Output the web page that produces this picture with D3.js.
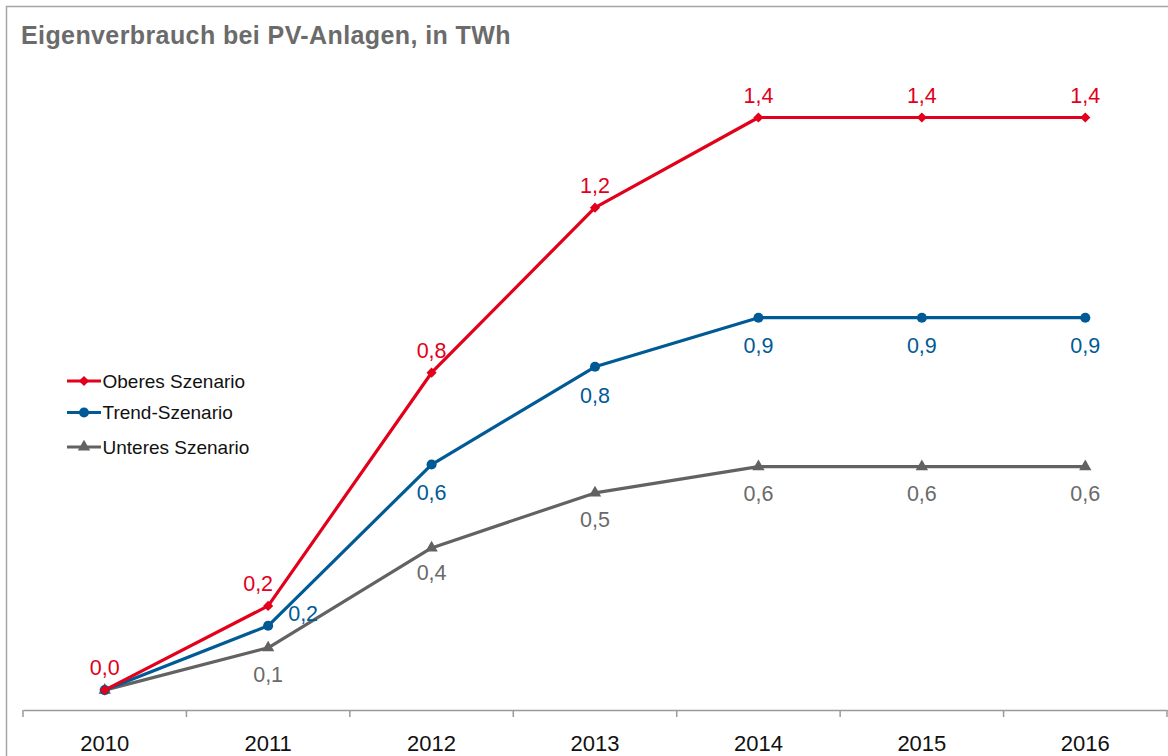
<!DOCTYPE html>
<html><head><meta charset="utf-8">
<script src="https://cdn.jsdelivr.net/npm/d3@7"></script>
<style>
html,body{margin:0;padding:0;background:#fff;}
svg{display:block;font-family:"Liberation Sans",Arial,sans-serif;}
</style></head>
<body>
<svg id="chart" width="1168" height="756"></svg>
<script>
const years = ["2010","2011","2012","2013","2014","2015","2016"];
const seriesNames = ["Oberes Szenario","Trend-Szenario","Unteres Szenario"];
const oberes = [0.047, 0.246, 0.797, 1.187, 1.40, 1.40, 1.40];
const trend  = [0.047, 0.199, 0.580, 0.811, 0.927, 0.927, 0.927];
const unteres= [0.047, 0.147, 0.383, 0.513, 0.575, 0.575, 0.575];
const title = "Eigenverbrauch bei PV-Anlagen, in TWh";

const colors = ["#e2001a", "#005a96", "#626262"];
const labelColors = ["#e2001a", "#005a96", "#6a6a6a"];
const symbols = [d3.symbolDiamond2, d3.symbolCircle, d3.symbolTriangle];
const symSizes = [66, 80, 66];
const labelShow = [
  [true,true,true,true,true,true,true],
  [false,true,true,true,true,true,true],
  [false,true,true,true,true,true,true]
];

const svg = d3.select("#chart");
svg.append("rect").attr("x",6.5).attr("y",6.5).attr("width",1300).attr("height",900)
  .attr("fill","none").attr("stroke","#a6a6a6").attr("stroke-width",1.5);

svg.append("text").attr("x",21).attr("y",43.5).text(title)
  .attr("font-size",25).attr("letter-spacing",0.4).attr("font-weight","bold").attr("fill","#6b6b6b");

const x = d3.scaleBand().domain(years).range([23,1167]).padding(0);
const cx = d => x(d) + x.bandwidth()/2;
const y = d3.scaleLinear().domain([0,1.6]).range([710, 710-1.6*423.2]);

const xAxis = d3.axisBottom(x).tickSize(0).tickSizeOuter(0).tickPadding(0);
const gx = svg.append("g").attr("transform","translate(0,710)").call(xAxis);
gx.attr("font-family","Liberation Sans, Arial, sans-serif");
gx.select(".domain").attr("stroke","#9a9a9a").attr("stroke-width",1.5);
gx.selectAll(".tick text").attr("font-size",22).attr("fill","#111")
  .attr("dy",null).attr("y",41);
const bounds = years.map(d=>x(d)).concat([x.range()[1]]);
gx.selectAll(".bnd").data(bounds).enter().append("line")
  .attr("x1",d=>d).attr("x2",d=>d).attr("y1",0).attr("y2",7)
  .attr("stroke","#9a9a9a").attr("stroke-width",1.5);

const allSeries = [oberes, trend, unteres];
const line = d3.line().x((d,i)=>cx(years[i])).y(d=>y(d));

[2,1,0].forEach(s=>{
  const vals = allSeries[s];
  svg.append("path").datum(vals).attr("d",line).attr("fill","none")
    .attr("stroke",colors[s]).attr("stroke-width",3.2).attr("stroke-linejoin","round");
  svg.selectAll(".m"+s).data(vals).enter().append("path")
    .attr("d",d3.symbol().type(symbols[s]).size(symSizes[s]))
    .attr("transform",(d,i)=>`translate(${cx(years[i])},${y(d)})`)
    .attr("fill",colors[s]);
});

const fmt = v => d3.format(".1f")(v).replace(".",",");
const labelOffsets = [
  years.map((d,i)=> i===1 ? [-10,-23] : [0,-22.5]),
  years.map((d,i)=> i===1 ? [35,-13] : [0,28]),
  years.map((d,i)=> i===2 ? [0,24] : [0,26.5])
];
allSeries.forEach((vals,s)=>{
  vals.forEach((v,i)=>{
    if(!labelShow[s][i]) return;
    const o = labelOffsets[s][i];
    svg.append("text").attr("x",cx(years[i])+o[0]).attr("y",y(v)+o[1]+7.8)
      .attr("text-anchor","middle").attr("font-size",21.5).attr("fill",labelColors[s])
      .text(fmt(v));
  });
});

const legY = [381, 412.5, 447];
seriesNames.forEach((n,s)=>{
  const g = svg.append("g");
  g.append("line").attr("x1",67).attr("x2",101).attr("y1",legY[s]).attr("y2",legY[s])
    .attr("stroke",colors[s]).attr("stroke-width",3.2);
  g.append("path").attr("d",d3.symbol().type(symbols[s]).size(symSizes[s]))
    .attr("transform",`translate(84,${legY[s]})`).attr("fill",colors[s]);
  g.append("text").attr("x",102.5).attr("y",legY[s]+6.8).attr("font-size",19)
    .attr("fill","#111").text(n);
});
</script>
</body></html>
